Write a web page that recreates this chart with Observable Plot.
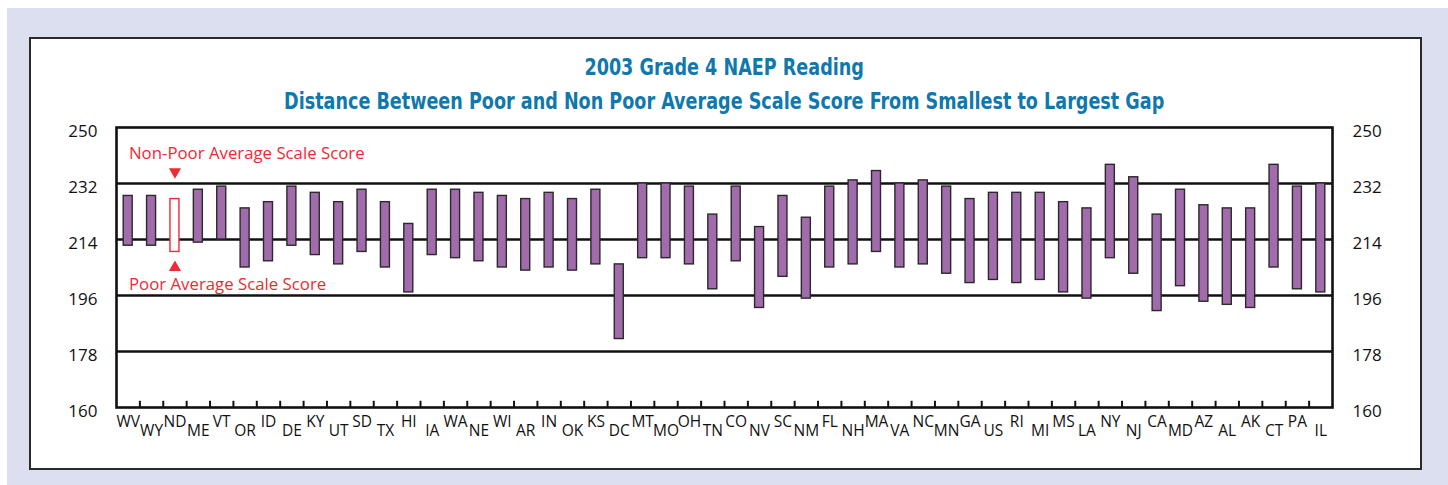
<!DOCTYPE html>
<html>
<head>
<meta charset="utf-8">
<script src="https://cdn.jsdelivr.net/npm/d3@7"></script>
<script src="https://cdn.jsdelivr.net/npm/@observablehq/plot@0.6"></script>
<style>
  html, body { margin: 0; padding: 0; background: #fff; }
  #wrap { position: relative; width: 1448px; height: 485px; overflow: hidden; background: #fff; }
  #lav { position: absolute; left: 7px; top: 8px; right: 0; bottom: 0; background: #dcdff0; }
  #panel { position: absolute; left: 29px; top: 37px; width: 1393px; height: 433px; box-sizing: border-box; border: 2.5px solid #2a2a2a; background: #fff; }
  #title { position: relative; width: 1448px; height: 120px; box-sizing: border-box; padding-top: 50px; text-align: center;
           font-family: "Liberation Sans Narrow", "DejaVu Sans Condensed", sans-serif; font-weight: bold; font-size: 23px; line-height: 34px; color: #0f78ad; }
  #title div { transform: scaleX(0.85); transform-origin: 725px 0; }
  #chart { position: relative; }
</style>
</head>
<body>
<div id="wrap">
  <div id="lav"></div>
  <div id="panel"></div>
  <div id="title">
    <div>2003 Grade 4 NAEP Reading</div>
    <div>Distance Between Poor and Non Poor Average Scale Score From Smallest to Largest Gap</div>
  </div>
  <div id="chart"></div>
</div>
<script>
// ---- data ----
const states = ["WV","WY","ND","ME","VT","OR","ID","DE","KY","UT","SD","TX","HI","IA","WA","NE","WI","AR","IN","OK","KS","DC","MT","MO","OH","TN","CO","NV","SC","NM","FL","NH","MA","VA","NC","MN","GA","US","RI","MI","MS","LA","NY","NJ","CA","MD","AZ","AL","AK","CT","PA","IL"];
const nonPoor = [228,228,227,230,231,224,226,231,229,226,230,226,219,230,230,229,228,227,229,227,230,206,232,232,231,222,231,218,228,221,231,233,236,232,233,231,227,229,229,229,226,224,238,234,222,230,225,224,224,238,231,232];
const poor    = [212,212,210,213,214,205,207,212,209,206,210,205,197,209,208,207,205,204,205,204,206,182,208,208,206,198,207,192,202,195,205,206,210,205,206,203,200,201,200,201,197,195,208,203,191,199,194,193,192,205,198,197];
const highlighted = ["ND"];
const yTicks = [160,178,196,214,232,250];
const gridValues = [178,196,214,232];
const annotations = [
  {state: "ND", value: 241.6, label: "Non-Poor Average Scale Score", marker: 235.8, dir: 180},
  {state: "ND", value: 199.5, label: "Poor Average Scale Score", marker: 205.0, dir: 0}
];

const data = states.map((s, i) => ({state: s, nonPoor: nonPoor[i], poor: poor[i], i}));

const W = 1448, H = 365;
const mL = 116, mR = 116, mT = 7, mB = 78;
const step = (W - mL - mR) / states.length;
const barW = 9;
const inset = (step - barW) / 2;
const purple = "#a26bab";
const red = "#ee2a35";

const chart = Plot.plot({
  width: W, height: H,
  marginLeft: mL, marginRight: mR, marginTop: mT, marginBottom: mB,
  style: {background: "transparent", fontFamily: "'Open Sans', sans-serif", color: "#111", overflow: "visible"},
  x: {type: "band", domain: states, padding: 0, round: false, axis: null},
  y: {domain: [160, 250], axis: null},
  marks: [
    Plot.ruleY(gridValues, {stroke: "#111", strokeWidth: 2.6}),
    Plot.ruleX(states.slice(1), {x: d => d, y1: 160, y2: 162, dx: -step / 2, stroke: "#111", strokeWidth: 2}),
    Plot.frame({stroke: "#111", strokeWidth: 2.6}),
    Plot.rectY(data.filter(d => !highlighted.includes(d.state)), {
      x: "state", y1: "poor", y2: "nonPoor", fill: purple, stroke: "#2a2a2a", strokeWidth: 1.4,
      insetLeft: inset, insetRight: inset
    }),
    Plot.rectY(data.filter(d => highlighted.includes(d.state)), {
      x: "state", y1: "poor", y2: "nonPoor", fill: "#fff", stroke: red, strokeWidth: 1.4,
      insetLeft: inset, insetRight: inset
    }),
    // y labels left & right
    Plot.text(yTicks, {y: d => d, text: d => String(d), frameAnchor: "left", textAnchor: "end", dx: -19, dy: 4.5, fontSize: 17, fill: "#111"}),
    Plot.text(yTicks, {y: d => d, text: d => String(d), frameAnchor: "right", textAnchor: "start", dx: 20, dy: 4.5, fontSize: 17, fill: "#111"}),
    // staggered x labels
    Plot.text(data.filter(d => d.i % 2 === 0), {x: "state", text: "state", frameAnchor: "bottom", dy: 19, fontSize: 15.5, fill: "#111"}),
    Plot.text(data.filter(d => d.i % 2 === 1), {x: "state", text: "state", frameAnchor: "bottom", dy: 28, fontSize: 15.5, fill: "#111"}),
    // annotations
    Plot.text(annotations, {x: "state", y: "value", text: "label", textAnchor: "start", dx: -46, fontSize: 16.8, fill: red}),
    Plot.dot(annotations, {x: "state", y: "marker", symbol: "triangle", r: 4.5, fill: red, stroke: "none", rotate: "dir"})
  ]
});
document.getElementById("chart").appendChild(chart);
</script>
</body>
</html>
